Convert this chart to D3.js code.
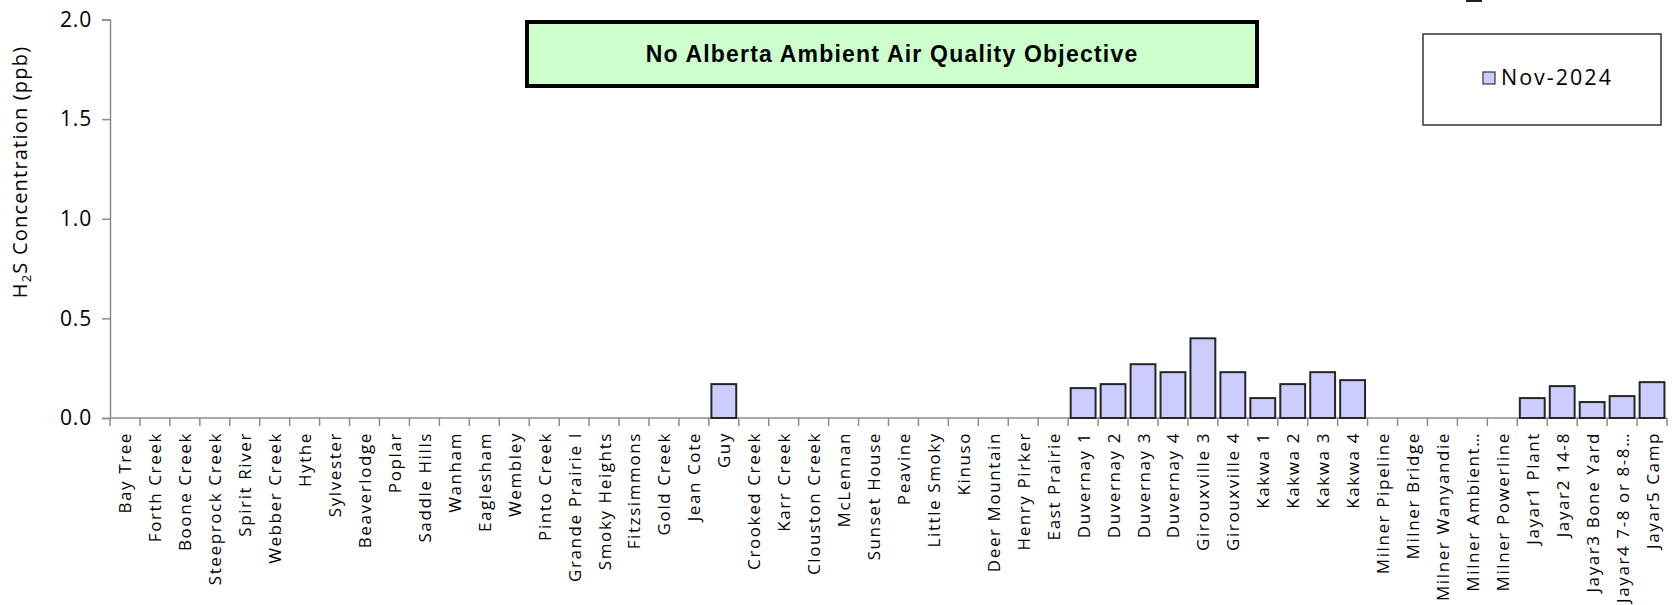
<!DOCTYPE html>
<html>
<head>
<meta charset="utf-8">
<script src="https://cdn.jsdelivr.net/npm/d3@7"></script>
<style>
  html, body { margin: 0; padding: 0; background: #fff; }
  svg { display: block; }
</style>
</head>
<body>
<svg id="chart" width="1675" height="605"></svg>
<script>
// Monitoring stations along the x axis
const stations = [
  "Bay Tree", "Forth Creek", "Boone Creek", "Steeprock Creek", "Spirit River",
  "Webber Creek", "Hythe", "Sylvester", "Beaverlodge", "Poplar", "Saddle Hills",
  "Wanham", "Eaglesham", "Wembley", "Pinto Creek", "Grande Prairie I",
  "Smoky Heights", "Fitzsimmons", "Gold Creek", "Jean Cote", "Guy",
  "Crooked Creek", "Karr Creek", "Clouston Creek", "McLennan", "Sunset House",
  "Peavine", "Little Smoky", "Kinuso", "Deer Mountain", "Henry Pirker",
  "East Prairie", "Duvernay 1", "Duvernay 2", "Duvernay 3", "Duvernay 4",
  "Girouxville 3", "Girouxville 4", "Kakwa 1", "Kakwa 2", "Kakwa 3", "Kakwa 4",
  "Milner Pipeline", "Milner Bridge", "Milner Wanyandie", "Milner Ambient\u2026",
  "Milner Powerline", "Jayar1 Plant", "Jayar2 14-8", "Jayar3 Bone Yard",
  "Jayar4 7-8 or 8-8\u2026", "Jayar5 Camp"
];

// Monthly mean H2S (ppb), Nov-2024; null = not measured
const nov2024 = [
  null, null, null, null, null, null, null, null, null, null, null,
  null, null, null, null, null, null, null, null, null, 0.17,
  null, null, null, null, null, null, null, null, null, null,
  null, 0.15, 0.17, 0.27, 0.23,
  0.40, 0.23, 0.10, 0.17, 0.23, 0.19,
  null, null, null, null,
  null, 0.10, 0.16, 0.08,
  0.11, 0.18
];

const yTicks = [0, 0.5, 1.0, 1.5, 2.0];
const seriesName = "Nov-2024";
const noteText = "No Alberta Ambient Air Quality Objective";

const svg = d3.select("#chart");

const x = d3.scaleBand()
  .domain(stations)
  .range([110, 1667])
  .paddingInner(0.17)
  .paddingOuter(0.085);

const y = d3.scaleLinear()
  .domain([0, 2])
  .range([418, 19.5]);

const axisColor = "#8c8c8c";
const labelFont = "'Open Sans', 'Noto Sans', sans-serif";

// Y axis
const yAxis = svg.append("g")
  .attr("transform", "translate(110,0)")
  .call(d3.axisLeft(y).tickValues(yTicks).tickFormat(d3.format(".1f")).tickSize(8).tickPadding(10));
yAxis.select(".domain").attr("stroke", axisColor).attr("stroke-width", 1.5);
yAxis.selectAll(".tick line").attr("stroke", axisColor).attr("stroke-width", 1.5);
yAxis.selectAll(".tick text")
  .attr("font-family", labelFont)
  .attr("font-size", 21)
  .attr("letter-spacing", 0.8)
  .attr("fill", "#000");

// X axis baseline and category boundary ticks
const step = x.step();
const x0 = x.range()[0];
svg.append("line")
  .attr("x1", x0).attr("x2", x.range()[1])
  .attr("y1", y(0)).attr("y2", y(0))
  .attr("stroke", axisColor).attr("stroke-width", 1.5);
svg.append("g").selectAll("line")
  .data(d3.range(stations.length + 1))
  .join("line")
  .attr("x1", i => x0 + i * step).attr("x2", i => x0 + i * step)
  .attr("y1", y(0)).attr("y2", y(0) + 8)
  .attr("stroke", axisColor).attr("stroke-width", 1.5);

// Rotated station labels
svg.append("g").selectAll("text")
  .data(stations)
  .join("text")
  .attr("transform", d => `translate(${x(d) + x.bandwidth() / 2 + 6.5},${y(0) + 14}) rotate(-90)`)
  .attr("text-anchor", "end")
  .attr("font-family", labelFont)
  .attr("font-size", 17)
  .attr("letter-spacing", 1.6)
  .attr("fill", "#000")
  .text(d => d);

// Bars
svg.append("g").selectAll("rect")
  .data(stations.map((s, i) => ({ s, v: nov2024[i] })).filter(d => d.v != null))
  .join("rect")
  .attr("x", d => x(d.s))
  .attr("y", d => y(d.v))
  .attr("width", x.bandwidth())
  .attr("height", d => y(0) - y(d.v))
  .attr("fill", "#ccccff")
  .attr("stroke", "#262626")
  .attr("stroke-width", 2);

// Y axis title with subscript
const yTitle = svg.append("text")
  .attr("transform", "translate(27,172) rotate(-90)")
  .attr("text-anchor", "middle")
  .attr("font-family", labelFont)
  .attr("font-size", 20)
  .attr("letter-spacing", 1.2)
  .attr("fill", "#000");
yTitle.append("tspan").text("H");
yTitle.append("tspan").attr("font-size", 13).attr("dy", 4).text("2");
yTitle.append("tspan").attr("dy", -4).text("S Concentration (ppb)");

// Objective note box
svg.append("rect")
  .attr("x", 527).attr("y", 22)
  .attr("width", 730).attr("height", 64)
  .attr("fill", "#ccffcc")
  .attr("stroke", "#000")
  .attr("stroke-width", 4);
svg.append("text")
  .attr("x", 892).attr("y", 56)
  .attr("text-anchor", "middle")
  .attr("dominant-baseline", "middle")
  .attr("font-family", "'Liberation Sans', Arial, sans-serif")
  .attr("font-weight", "bold")
  .attr("font-size", 23)
  .attr("letter-spacing", 1.2)
  .attr("fill", "#000")
  .text(noteText);

// Legend
svg.append("rect")
  .attr("x", 1423).attr("y", 34)
  .attr("width", 238).attr("height", 91)
  .attr("fill", "#fff")
  .attr("stroke", "#333")
  .attr("stroke-width", 1.5);
svg.append("rect")
  .attr("x", 1483).attr("y", 72)
  .attr("width", 12).attr("height", 12)
  .attr("fill", "#ccccff")
  .attr("stroke", "#333")
  .attr("stroke-width", 1.2);
svg.append("text")
  .attr("x", 1501).attr("y", 79)
  .attr("dominant-baseline", "middle")
  .attr("font-family", labelFont)
  .attr("font-size", 21.5)
  .attr("letter-spacing", 2)
  .attr("fill", "#000")
  .text(seriesName);

// Edge of a graphic clipped at the top border
svg.append("rect")
  .attr("x", 1466).attr("y", 0)
  .attr("width", 16).attr("height", 2)
  .attr("fill", "#222");
</script>
</body>
</html>
